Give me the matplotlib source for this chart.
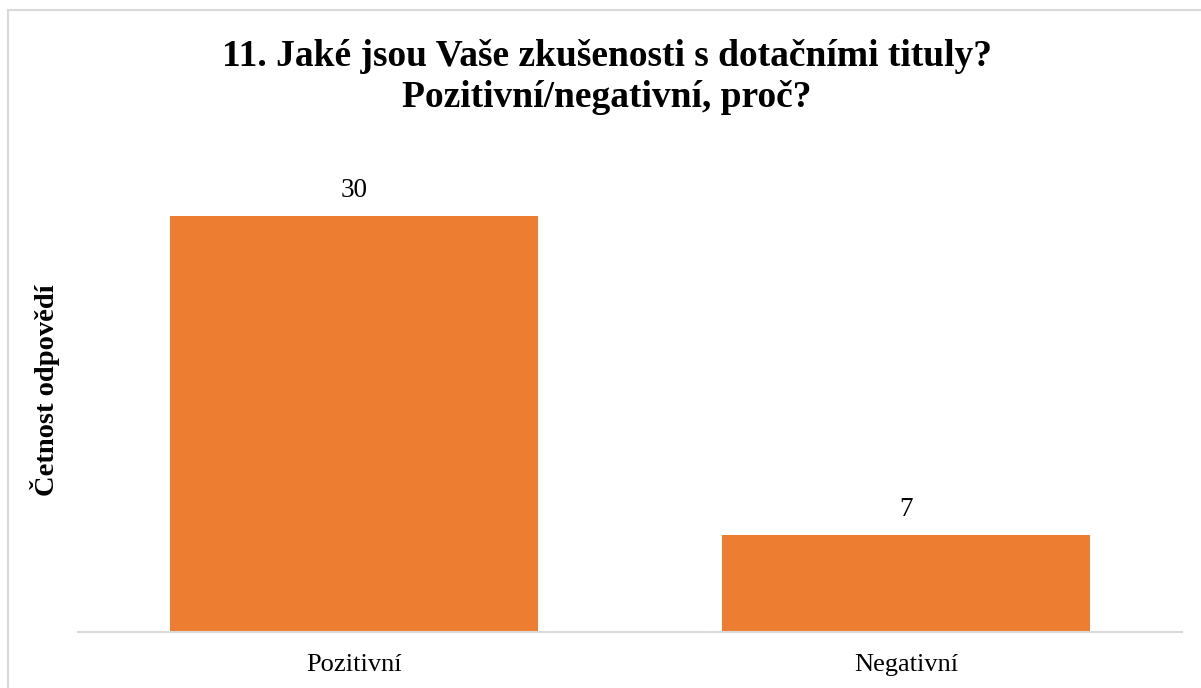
import matplotlib.pyplot as plt
from matplotlib.patches import Rectangle

categories = ['Pozitivní', 'Negativní']
counts = [30, 7]

plt.rcParams['font.family'] = ['Liberation Serif', 'DejaVu Serif']

fig = plt.figure(figsize=(12.01, 6.88), dpi=100)
W, H = 1201, 688

# light chart border (Excel style), cut off at right/bottom
fig.patches.append(Rectangle((8 / W, -0.1), 1.2, (688 - 10) / H + 0.1,
                             transform=fig.transFigure, fill=False,
                             edgecolor='#d9d9d9', linewidth=1.5))

ax = fig.add_axes([78 / W, 1 - 632 / H, (1182 - 78) / W, (632 - 146.6) / H])
x = range(len(categories))
bars = ax.bar(x, counts, width=0.665, color='#ED7D31')
for b, v in zip(bars, counts):
    ax.text(b.get_x() + b.get_width() / 2, v + 0.9, str(v),
            ha='center', va='bottom', fontsize=19.5)

ax.set_xlim(-0.5, 1.5)
ax.set_ylim(0, 35)
ax.set_xticks(list(x))
ax.set_xticklabels(categories, fontsize=19)
ax.tick_params(axis='x', length=0, pad=16)
ax.set_yticks([])
for s in ['top', 'right', 'left']:
    ax.spines[s].set_visible(False)
ax.spines['bottom'].set_color('#d9d9d9')
ax.spines['bottom'].set_linewidth(1.5)

fig.text(45 / W, 1 - 390 / H, 'Četnost odpovědí', rotation=90,
         ha='center', va='center', fontsize=20.5, fontweight='bold')
fig.text(0.505, 1 - 77 / H, '11. Jaké jsou Vaše zkušenosti s dotačními tituly?\nPozitivní/negativní, proč?',
         ha='center', va='center', fontsize=27, fontweight='bold', linespacing=1.24)

fig.savefig('out.png', dpi=100)
